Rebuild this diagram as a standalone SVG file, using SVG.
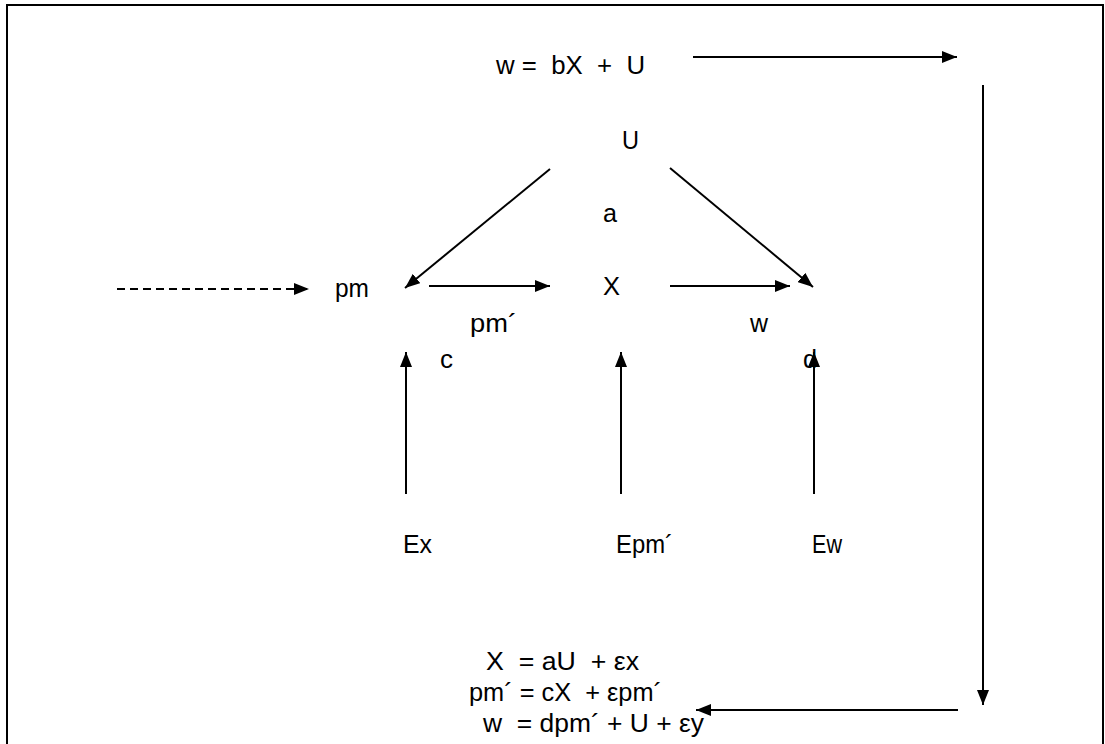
<svg xmlns="http://www.w3.org/2000/svg" width="1105" height="744" viewBox="0 0 1105 744">
<style>
text{font-family:"Liberation Sans",Arial,sans-serif;font-size:26px;fill:#000}
.ln{stroke:#000;stroke-width:2;fill:none}
.dash{stroke-dasharray:8 5}
</style>
<defs>
<marker id="ah" markerWidth="15" markerHeight="12" refX="15" refY="6" orient="auto" markerUnits="userSpaceOnUse">
<path d="M0,0 L15,6 L0,12 z" fill="#000"/>
</marker>
</defs>
<rect width="1105" height="744" fill="#fff"/>
<path class="ln" d="M7,744 V5 H1103 V744" stroke-width="2.5"/>
<g id="eq-top"><text x="496" y="74" xml:space="preserve" textLength="149" lengthAdjust="spacingAndGlyphs">w =  bX  +  U</text></g>
<g id="node-U"><text x="622" y="149" textLength="17" lengthAdjust="spacingAndGlyphs">U</text></g>
<g id="label-a"><text x="603" y="222" textLength="14" lengthAdjust="spacingAndGlyphs">a</text></g>
<g id="node-pm"><text x="335" y="297" textLength="34" lengthAdjust="spacingAndGlyphs">pm</text></g>
<g id="node-X"><text x="603" y="295" textLength="17" lengthAdjust="spacingAndGlyphs">X</text></g>
<g id="label-pm2"><text x="470" y="332" textLength="47" lengthAdjust="spacingAndGlyphs">pm´</text></g>
<g id="label-w"><text x="750" y="332" textLength="18" lengthAdjust="spacingAndGlyphs">w</text></g>
<g id="label-c"><text x="440" y="368" textLength="13" lengthAdjust="spacingAndGlyphs">c</text></g>
<g id="label-d"><text x="803" y="368" textLength="14" lengthAdjust="spacingAndGlyphs">d</text></g>
<g id="node-Ex"><text x="403" y="553" textLength="29" lengthAdjust="spacingAndGlyphs">Ex</text></g>
<g id="node-Epm"><text x="616" y="553" textLength="57" lengthAdjust="spacingAndGlyphs">Epm´</text></g>
<g id="node-Ew"><text x="812" y="553" textLength="30" lengthAdjust="spacingAndGlyphs">Ew</text></g>
<g id="eq-bottom">
<text x="486" y="670" xml:space="preserve" textLength="153" lengthAdjust="spacingAndGlyphs">X  = aU  + εx</text>
<text x="469" y="701" xml:space="preserve" textLength="193" lengthAdjust="spacingAndGlyphs">pm´ = cX  + εpm´</text>
<text x="483" y="732" xml:space="preserve" textLength="221" lengthAdjust="spacingAndGlyphs">w  = dpm´ + U + εy</text>
</g>
<g id="connectors">
<line class="ln" x1="693" y1="57" x2="957" y2="57" marker-end="url(#ah)"/>
<line class="ln" x1="983" y1="85" x2="983" y2="705" marker-end="url(#ah)"/>
<line class="ln" x1="958" y1="710" x2="696" y2="710" marker-end="url(#ah)"/>
<line class="ln" x1="550" y1="169" x2="405" y2="288" marker-end="url(#ah)"/>
<line class="ln" x1="670" y1="168" x2="813" y2="287" marker-end="url(#ah)"/>
<line class="ln dash" x1="117" y1="289" x2="309" y2="289" marker-end="url(#ah)"/>
<line class="ln" x1="429" y1="286" x2="550" y2="286" marker-end="url(#ah)"/>
<line class="ln" x1="670" y1="286" x2="790" y2="286" marker-end="url(#ah)"/>
<line class="ln" x1="406" y1="494" x2="406" y2="352" marker-end="url(#ah)"/>
<line class="ln" x1="621" y1="494" x2="621" y2="352" marker-end="url(#ah)"/>
<line class="ln" x1="814" y1="494" x2="814" y2="352" marker-end="url(#ah)"/>
</g>
</svg>
